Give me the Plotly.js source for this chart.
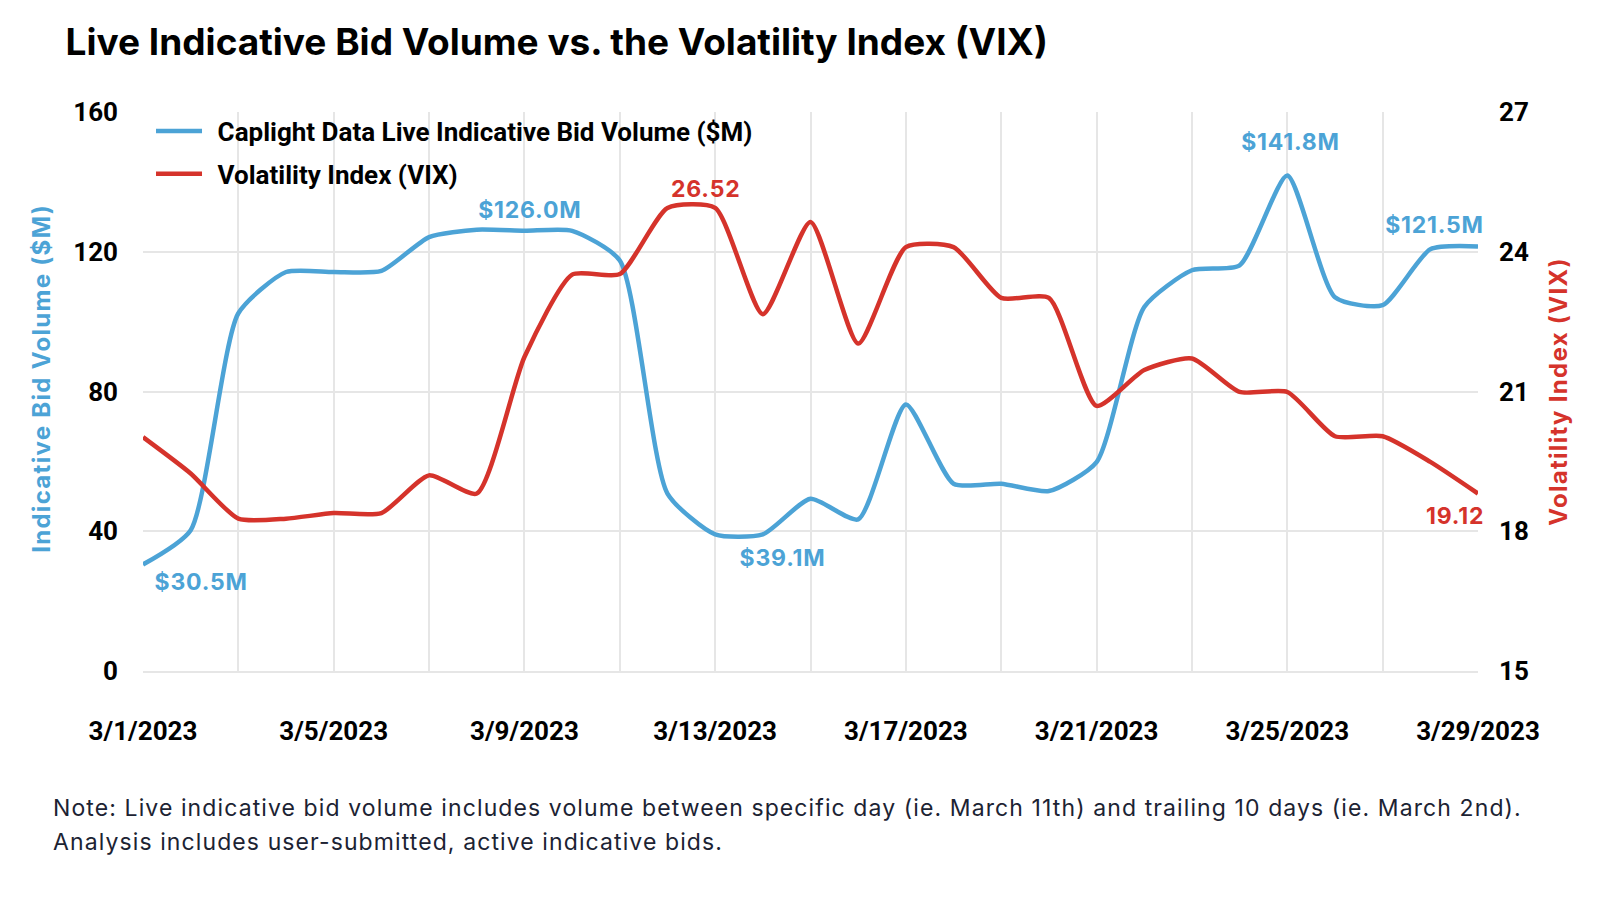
<!DOCTYPE html>
<html>
<head>
<meta charset="utf-8">
<script src="https://cdn.plot.ly/plotly-3.0.1.min.js"></script>
<style>
  html, body { margin: 0; padding: 0; background: #fff; }
  #chart { width: 1600px; height: 898px; }
  /* the original Inter is set a bit looser */
  .annotation .annotation-text { letter-spacing: 0.8px; }
  .annotation[data-index="7"] .annotation-text { letter-spacing: 1.3px; }
  .annotation[data-index="8"] .annotation-text,
  .annotation[data-index="9"] .annotation-text { letter-spacing: 1.1px; }
  .y2title { letter-spacing: 1.3px; }
</style>
</head>
<body>
<div id="chart"></div>
<script>
// daily points, March 2023
const dates = [
  '2023-03-01','2023-03-02','2023-03-03','2023-03-04','2023-03-05','2023-03-06','2023-03-07',
  '2023-03-08','2023-03-09','2023-03-10','2023-03-11','2023-03-12','2023-03-13','2023-03-14',
  '2023-03-15','2023-03-16','2023-03-17','2023-03-18','2023-03-19','2023-03-20','2023-03-21',
  '2023-03-22','2023-03-23','2023-03-24','2023-03-25','2023-03-26','2023-03-27','2023-03-28',
  '2023-03-29'
];
// live indicative bid volume, $M
const bidVolume = [
  30.5, 40.3, 102.4, 114.2, 114.2, 114.5, 124.2,
  126.3, 126.0, 126.0, 117.5, 50.8, 39.1, 39.1,
  49.3, 43.4, 76.3, 53.6, 53.6, 51.5, 59.8,
  104.2, 114.7, 116.1, 141.8, 107.0, 104.7, 120.7,
  121.5
];
// VIX close
const vix = [
  20.02, 19.24, 18.27, 18.27, 18.39, 18.39, 19.20,
  18.81, 21.74, 23.51, 23.52, 24.94, 24.94, 22.66,
  24.64, 22.03, 24.10, 24.10, 23.01, 23.01, 20.69,
  21.46, 21.71, 20.99, 20.99, 20.04, 20.04, 19.49,
  18.81
];

// gridlines every 2 days, label every 4
const xTickVals = ['2023-03-01','2023-03-03','2023-03-05','2023-03-07','2023-03-09','2023-03-11',
  '2023-03-13','2023-03-15','2023-03-17','2023-03-19','2023-03-21','2023-03-23','2023-03-25',
  '2023-03-27','2023-03-29'];
const xTickText = ['3/1/2023','','3/5/2023','','3/9/2023','','3/13/2023','','3/17/2023','',
  '3/21/2023','','3/25/2023','','3/29/2023'];
const volTicks = [0, 40, 80, 120, 160];
const vixTicks = [15, 18, 21, 24, 27];

// callouts: [series, index, text]
const callouts = [
  ['vol', 0, '$30.5M'],
  ['vol', 8, '$126.0M'],
  ['vix', 12, '26.52'],
  ['vol', 13, '$39.1M'],
  ['vol', 24, '$141.8M'],
  ['vol', 28, '$121.5M'],
  ['vix', 28, '19.12']
];
const calloutShift = [[58, -18], [6, 21], [-10, 19], [20, -24], [3, 34], [-44, 22], [-23, -22]];

const BLUE = '#4CA3D6';
const RED = '#D5332B';
const GRID = '#E6E6E6';

const traces = [
  {
    x: dates, y: bidVolume, type: 'scatter', mode: 'lines',
    name: '\u2009\u2009Caplight Data Live Indicative Bid Volume ($M)',
    legendgroup: 'a',
    line: { color: BLUE, width: 4.5, shape: 'spline', smoothing: 0.6 },
    yaxis: 'y'
  },
  {
    x: dates, y: vix, type: 'scatter', mode: 'lines',
    name: '\u2009\u2009Volatility Index (VIX)',
    legendgroup: 'b',
    line: { color: RED, width: 4.5, shape: 'spline', smoothing: 0.6 },
    yaxis: 'y2'
  }
];

const annotations = callouts.map((c, i) => {
  const isVol = c[0] === 'vol';
  return {
    x: dates[c[1]],
    y: isVol ? bidVolume[c[1]] : vix[c[1]],
    xref: 'x', yref: isVol ? 'y' : 'y2',
    text: c[2], showarrow: false,
    xshift: calloutShift[i][0], yshift: calloutShift[i][1],
    font: { family: 'Inter, sans-serif', size: 23, color: isVol ? BLUE : RED, weight: 700 }
  };
});

annotations.push({
  xref: 'paper', yref: 'paper', x: -0.0757, y: 0.5245,
  text: 'Indicative Bid Volume ($M)', textangle: -90, showarrow: false,
  xanchor: 'center', yanchor: 'middle',
  font: { family: 'Inter, sans-serif', size: 24, color: BLUE, weight: 700 }
});
annotations.push({
  xref: 'paper', yref: 'paper', x: -0.069, y: -0.245, xanchor: 'left', yanchor: 'middle', align: 'left',
  text: 'Note: Live indicative bid volume includes volume between specific day (ie. March 11th) and trailing 10 days (ie. March 2nd).',
  showarrow: false, font: { family: 'Inter, sans-serif', size: 23, color: '#1C2333' }
});
annotations.push({
  xref: 'paper', yref: 'paper', x: -0.069, y: -0.306, xanchor: 'left', yanchor: 'middle', align: 'left',
  text: 'Analysis includes user-submitted, active indicative bids.',
  showarrow: false, font: { family: 'Inter, sans-serif', size: 23, color: '#1C2333' }
});

const tickFont = { family: 'Roboto, sans-serif', size: 26, color: '#000', weight: 700 };

const layout = {
  width: 1600, height: 898,
  margin: { l: 143, r: 122, t: 112, b: 227 },
  paper_bgcolor: '#fff', plot_bgcolor: '#fff',
  title: {
    text: 'Live Indicative Bid Volume vs. the Volatility Index (VIX)',
    x: 0.041, xref: 'container', xanchor: 'left',
    y: 0.953, yref: 'container', yanchor: 'middle',
    font: { family: 'Inter, sans-serif', size: 37, color: '#000', weight: 700 }
  },
  showlegend: true,
  legend: {
    x: 0.006, y: 1.008, xanchor: 'left', yanchor: 'top',
    bgcolor: 'rgba(0,0,0,0)', borderwidth: 0,
    traceorder: 'grouped', tracegroupgap: 6, itemwidth: 46,
    font: { family: 'Roboto, sans-serif', size: 26, color: '#000', weight: 700 }
  },
  xaxis: {
    type: 'date',
    range: ['2023-03-01', '2023-03-29'],
    tickmode: 'array', tickvals: xTickVals, ticktext: xTickText,
    showgrid: true, gridcolor: GRID, gridwidth: 2,
    showline: true, linecolor: GRID, linewidth: 2,
    zeroline: false, ticks: '',
    ticklabelstandoff: 36,
    tickfont: tickFont
  },
  yaxis: {
    range: [0, 160], tickmode: 'array', tickvals: volTicks,
    showgrid: true, gridcolor: GRID, gridwidth: 2,
    zeroline: false, showline: false, ticks: '',
    ticklabelstandoff: 24,
    tickfont: tickFont
  },
  yaxis2: {
    range: [15, 27], tickmode: 'array', tickvals: vixTicks,
    overlaying: 'y', side: 'right',
    showgrid: false, zeroline: false, showline: false, ticks: '',
    ticklabelstandoff: 20,
    tickfont: tickFont,
    title: {
      text: 'Volatility Index (VIX)', standoff: 22,
      font: { family: 'Inter, sans-serif', size: 24, color: RED, weight: 700 }
    }
  },
  annotations: annotations
};

Plotly.newPlot('chart', traces, layout, { displayModeBar: false, responsive: false });
</script>
</body>
</html>
